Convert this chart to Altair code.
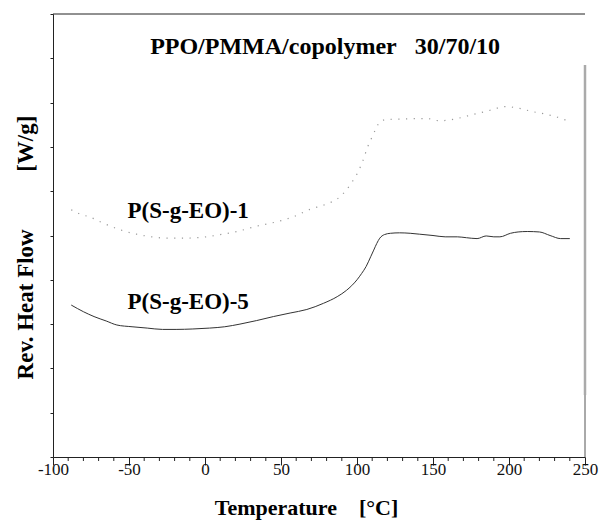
import altair as alt
import pandas as pd

# Reversing heat flow traces (arbitrary units on the flow axis)
temp_5 = [-88, -80, -73, -65, -58, -48, -38, -28, -19, -8, 3, 13, 23, 34, 45, 56, 67, 78, 87,
          93, 100, 103, 106, 109, 111, 113, 115, 118, 122, 128, 135, 141, 150, 158, 166, 172,
          179, 185, 190, 194, 201, 206, 212, 220, 227, 234, 240]
flow_5 = [3.43, 3.28, 3.17, 3.07, 2.98, 2.94, 2.91, 2.88, 2.88, 2.89, 2.91, 2.94, 3.00, 3.08,
          3.17, 3.25, 3.33, 3.47, 3.62, 3.76, 4.00, 4.14, 4.30, 4.52, 4.67, 4.82, 4.94, 5.02,
          5.05, 5.06, 5.05, 5.03, 5.00, 4.97, 4.97, 4.95, 4.93, 4.99, 4.97, 4.97, 5.05, 5.08,
          5.09, 5.08, 5.00, 4.93, 4.93]

temp_1 = [-88, -82, -76, -67, -55, -45, -35, -25, -16, -5, 1, 10, 21, 34, 46, 58, 69, 79, 89,
          93, 97, 100, 104, 107, 110, 113, 115, 120, 130, 139, 146, 154, 163, 175, 188, 197,
          207, 215, 224, 231, 238, 240]
flow_1 = [5.58, 5.48, 5.42, 5.28, 5.12, 5.03, 4.97, 4.94, 4.94, 4.95, 4.97, 5.02, 5.09, 5.21,
          5.30, 5.42, 5.59, 5.70, 5.88, 6.03, 6.22, 6.39, 6.70, 7.00, 7.23, 7.45, 7.57, 7.62,
          7.63, 7.64, 7.64, 7.59, 7.62, 7.72, 7.83, 7.91, 7.87, 7.80, 7.74, 7.68, 7.61, 7.65]

series_names = ["P(S-g-EO)-1", "P(S-g-EO)-5"]
series_label_temp = [-51, -51]
series_label_flow = [5.55, 3.50]

NB = "\u00a0"
chart_title = ["PPO/PMMA/copolymer" + NB * 3 + "30/70/10"]
chart_title_temp = [79]
chart_title_flow = [9.25]

x_major_ticks = [-100, -50, 0, 50, 100, 150, 200, 250]
x_minor_ticks = [-90, -80, -70, -60, -40, -30, -20, -10, 10, 20, 30, 40, 60, 70, 80, 90,
                 110, 120, 130, 140, 160, 170, 180, 190, 210, 220, 230, 240]
y_tick_values = [0, 1, 2, 3, 4, 5, 6, 7, 8, 9, 10]

SERIF = "Liberation Serif"

df5 = pd.DataFrame({"T": temp_5, "F": flow_5})
df1 = pd.DataFrame({"T": temp_1, "F": flow_1})
labels = pd.DataFrame({"T": series_label_temp, "F": series_label_flow, "txt": series_names})
title_df = pd.DataFrame({"T": chart_title_temp, "F": chart_title_flow, "txt": chart_title})
minor_df = pd.DataFrame({"T": x_minor_ticks})

x_scale = alt.Scale(domain=[-100, 250], nice=False, zero=False)
y_scale = alt.Scale(domain=[0, 10], nice=False, zero=False)

x_axis = alt.Axis(
    values=x_major_ticks,
    labelExpr="'' + datum.value",
    labelOverlap=False,
    labelFlush=False,
    labelFont=SERIF,
    labelFontSize=17,
    labelColor="#111",
    labelBaseline="middle",
    labelPadding=4,
    tickSize=8,
    tickColor="#222",
    domainColor="#222",
    grid=False,
    title="Temperature" + NB * 4 + "[°C]",
    titleFont=SERIF,
    titleFontSize=22,
    titleFontWeight="bold",
    titleColor="black",
    titleX=253,
    titleY=50,
    titleAlign="center",
    titleBaseline="middle",
)

y_axis = alt.Axis(
    values=y_tick_values,
    labels=False,
    tickSize=3,
    tickColor="#222",
    domainColor="#222",
    grid=False,
    title="Rev." + NB + "Heat" + NB + "Flow" + NB * 10 + "[W/g]",
    titleFont=SERIF,
    titleFontSize=23,
    titleFontWeight="bold",
    titleColor="black",
    titleAngle=270,
    titleX=-28,
    titleY=233,
    titleAlign="center",
    titleBaseline="middle",
)

line5 = alt.Chart(df5).mark_line(color="#333", strokeWidth=1, interpolate="monotone").encode(
    x=alt.X("T:Q", scale=x_scale, axis=x_axis),
    y=alt.Y("F:Q", scale=y_scale, axis=y_axis),
)

line1 = alt.Chart(df1).mark_line(
    color="#999", strokeWidth=1.2, strokeDash=[1.2, 6.5], interpolate="monotone"
).encode(x="T:Q", y="F:Q")

# short minor ticks hanging below the temperature axis
minor = alt.Chart(minor_df).mark_rule(color="#222", strokeWidth=1).encode(
    x="T:Q", y=alt.datum(0), y2=alt.datum(-0.09)
)

series_text = alt.Chart(labels).mark_text(
    font=SERIF, fontSize=23, fontWeight="bold", align="left", baseline="middle", color="black"
).encode(x="T:Q", y="F:Q", text="txt:N")

title_text = alt.Chart(title_df).mark_text(
    font=SERIF, fontSize=24, fontWeight="bold", align="center", baseline="middle", color="black"
).encode(x="T:Q", y="F:Q", text="txt:N")

# frame: thin top edge, grey right edge
top_edge = alt.Chart(pd.DataFrame({"a": [0]})).mark_rule(color="#222", strokeWidth=1).encode(
    x=alt.datum(-100), x2=alt.datum(250), y=alt.datum(10)
)
right_grey = alt.Chart(pd.DataFrame({"a": [0]})).mark_rule(color="#aaa", strokeWidth=2.5).encode(
    x=alt.datum(250), y=alt.datum(1.4), y2=alt.datum(8.85)
)
right_thin = alt.Chart(pd.DataFrame({"a": [0]})).mark_rule(color="#555", strokeWidth=1).encode(
    x=alt.datum(250), y=alt.datum(0), y2=alt.datum(1.4)
)

chart = alt.layer(
    line5, line1, minor, series_text, title_text, top_edge, right_grey, right_thin
).properties(
    width=532,
    height=443,
    padding={"left": 53, "top": 14, "right": 18, "bottom": 74},
    autosize="none",
    background="white",
).configure_view(stroke=None)

chart.save("out.html", embed_options={"renderer": "svg", "actions": False})
